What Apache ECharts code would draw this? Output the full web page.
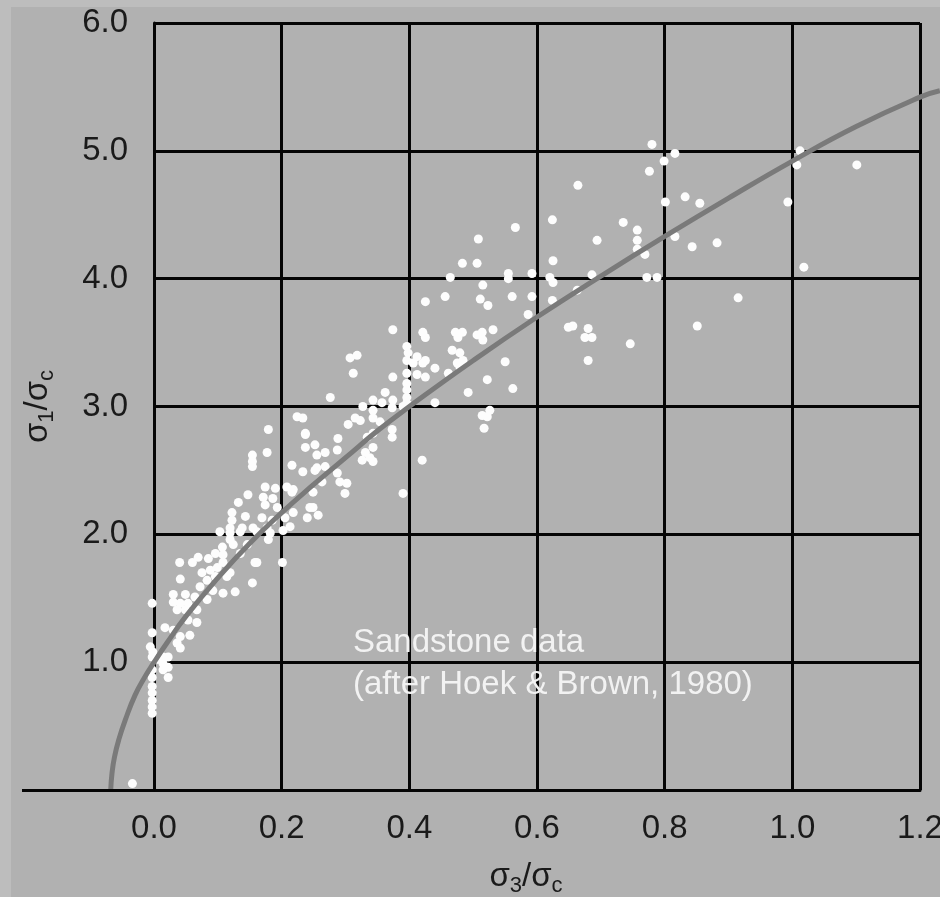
<!DOCTYPE html>
<html>
<head>
<meta charset="utf-8">
<script src="https://cdn.jsdelivr.net/npm/echarts@6/dist/echarts.min.js"></script>
<style>
html,body{margin:0;padding:0;background:#b1b1b1;}
#c{width:940px;height:897px;}
</style>
</head>
<body>
<div id="c"></div>
<script>
// ---- data ----
const xTickValues = [0.0, 0.2, 0.4, 0.6, 0.8, 1.0, 1.2];
const yTickValues = [1.0, 2.0, 3.0, 4.0, 5.0, 6.0];
const xAxisLeftEnd = -0.207;   // x-axis line runs a bit left of 0

// sigma3/sigma_c , sigma1/sigma_c  (sandstone triaxial data)
const sandstonePoints = [
 [0.04,1.78],[0.06,1.78],[0.075,1.70],[0.088,1.72],[0.099,1.74],[0.108,1.78],[0.083,1.64],[0.096,1.67],[0.119,1.70],[0.114,1.67],
 [0.158,1.78],[0.041,1.65],[0.154,1.62],[0.072,1.59],[0.092,1.56],[0.108,1.54],[0.127,1.55],[0.030,1.53],[0.049,1.53],[0.064,1.51],
 [0.030,1.47],[0.041,1.46],[0.053,1.46],[0.049,1.41],[0.036,1.41],[0.067,1.41],[0.083,1.49],[-0.003,1.46],[0.067,1.31],[0.053,1.33],
 [0.017,1.27],[0.030,1.25],[0.041,1.20],[0.056,1.21],[0.036,1.15],[0.041,1.11],[-0.003,1.23],[-0.006,1.12],[-0.002,1.08],[-0.003,1.04],
 [0.014,1.04],[0.022,1.04],[0.006,1.02],[0.014,0.99],[0.022,0.96],[0.014,0.94],[0.022,0.88],[-0.003,0.94],[-0.003,0.88],[-0.003,0.81],
 [-0.003,0.76],[-0.003,0.70],[-0.003,0.65],[-0.003,0.60],[-0.034,0.05],
 [0.179,2.82],[0.237,2.78],[0.252,2.70],[0.237,2.68],[0.154,2.62],[0.154,2.57],[0.154,2.53],[0.177,2.64],[0.216,2.54],[0.233,2.49],
 [0.252,2.50],[0.174,2.37],[0.190,2.36],[0.208,2.37],[0.216,2.33],[0.147,2.31],[0.171,2.29],[0.186,2.28],[0.249,2.33],[0.132,2.25],
 [0.174,2.23],[0.193,2.21],[0.244,2.21],[0.257,2.15],[0.122,2.17],[0.143,2.14],[0.122,2.11],[0.169,2.13],[0.185,2.11],[0.205,2.13],
 [0.240,2.13],[0.213,2.06],[0.119,2.05],[0.138,2.05],[0.155,2.05],[0.177,2.05],[0.103,2.02],[0.119,2.01],[0.135,2.02],[0.161,2.02],
 [0.182,2.01],[0.202,2.03],[0.179,1.96],[0.119,1.96],[0.107,1.90],[0.124,1.92],[0.146,1.92],[0.135,1.85],[0.108,1.84],[0.096,1.85],
 [0.069,1.82],[0.085,1.81],[0.161,1.78],[0.201,1.78],
 [0.374,3.60],[0.421,3.58],[0.425,3.54],[0.307,3.38],[0.318,3.40],[0.396,3.47],[0.398,3.42],[0.396,3.36],[0.406,3.34],[0.421,3.34],
 [0.412,3.39],[0.425,3.36],[0.440,3.30],[0.312,3.26],[0.374,3.23],[0.396,3.26],[0.412,3.25],[0.425,3.23],[0.396,3.18],[0.396,3.13],
 [0.396,3.07],[0.396,3.03],[0.362,3.11],[0.276,3.07],[0.343,3.05],[0.374,3.05],[0.357,3.03],[0.327,3.00],[0.343,2.97],[0.373,2.99],
 [0.390,3.00],[0.440,3.03],[0.224,2.92],[0.233,2.91],[0.315,2.91],[0.323,2.89],[0.343,2.91],[0.354,2.88],[0.304,2.86],[0.373,2.82],
 [0.373,2.76],[0.237,2.79],[0.334,2.76],[0.343,2.79],[0.288,2.75],[0.343,2.68],[0.268,2.64],[0.255,2.62],[0.287,2.66],[0.331,2.64],
 [0.338,2.60],[0.326,2.58],[0.343,2.57],[0.420,2.58],[0.255,2.52],[0.268,2.53],[0.287,2.48],[0.291,2.41],[0.302,2.40],[0.299,2.32],
 [0.263,2.41],[0.218,2.35],[0.390,2.32],[0.249,2.21],[0.218,2.17],
 [0.566,4.40],[0.624,4.46],[0.508,4.31],[0.483,4.12],[0.506,4.12],[0.464,4.01],[0.555,4.04],[0.555,4.00],[0.592,4.04],[0.620,4.01],
 [0.625,3.97],[0.515,3.95],[0.425,3.82],[0.456,3.86],[0.511,3.84],[0.523,3.79],[0.561,3.86],[0.592,3.86],[0.624,3.83],[0.586,3.72],
 [0.649,3.62],[0.472,3.58],[0.483,3.58],[0.476,3.54],[0.506,3.56],[0.514,3.58],[0.515,3.52],[0.531,3.60],[0.467,3.44],[0.479,3.42],
 [0.484,3.36],[0.475,3.34],[0.479,3.31],[0.550,3.35],[0.461,3.26],[0.522,3.21],[0.492,3.11],[0.562,3.14],[0.514,2.93],[0.522,2.92],
 [0.517,2.83],[0.526,2.97],
 [0.801,4.60],[0.832,4.64],[0.855,4.59],[0.735,4.44],[0.757,4.38],[0.694,4.30],[0.757,4.30],[0.816,4.33],[0.843,4.25],[0.882,4.28],
 [0.757,4.23],[0.769,4.19],[0.625,4.14],[0.686,4.03],[0.772,4.01],[0.788,4.01],[0.663,3.91],[0.915,3.85],[0.656,3.63],[0.851,3.63],
 [0.680,3.61],[0.675,3.54],[0.686,3.54],[0.746,3.49],[0.680,3.36],[0.780,5.05],[0.816,4.98],[0.799,4.92],[0.776,4.84],[1.012,5.00],
 [1.007,4.89],[1.101,4.89],[0.993,4.60],[1.018,4.09],[0.664,4.73]
];

// Hoek-Brown failure envelope
const envelopeX = [-0.068,-0.066,-0.062,-0.055,-0.045,-0.03,-0.015,0.0,0.02,0.05,0.1,0.15,0.2,0.25,0.3,0.35,0.4,0.5,0.6,0.7,0.8,0.9,1.0,1.1,1.2,1.231];
const envelopeY = [0.0,0.13,0.26,0.40,0.55,0.74,0.88,1.0,1.15,1.36,1.66,1.93,2.17,2.39,2.6,2.81,3.0,3.36,3.7,4.02,4.33,4.63,4.92,5.19,5.42,5.47];

const annotationText = ['Sandstone data', '(after Hoek & Brown, 1980)'];

// ---- chart ----
const font = '"Liberation Sans", Arial, Helvetica, sans-serif';
const ink = '#1a1a1a';
const gridColor = '#050505';
const chart = echarts.init(document.getElementById('c'));

const nameRich = {
  s: {fontSize: 33, fontFamily: font, color: ink, lineHeight: 40},
  b: {fontSize: 22, fontFamily: font, color: ink, lineHeight: 22, verticalAlign: 'bottom'}
};

const option = {
  backgroundColor: '#b1b1b1',
  animation: false,
  grid: [
    {left: 22, right: 0, top: 23, bottom: 107, outerBoundsMode: 'none', containLabel: false},
    {left: 154, right: 20, top: 23, bottom: 107, outerBoundsMode: 'none', containLabel: false}
  ],
  xAxis: [
    {
      gridIndex: 0, type: 'value', min: xAxisLeftEnd, max: 1.2313,
      axisLine: {show: false}, axisTick: {show: false}, axisLabel: {show: false}, splitLine: {show: false}
    },
    {
      gridIndex: 1, type: 'value', min: xTickValues[0], max: xTickValues[xTickValues.length - 1], interval: 0.2,
      axisLine: {show: true, onZero: false, lineStyle: {color: gridColor, width: 3}}, axisTick: {show: false},
      axisLabel: {formatter: v => v.toFixed(1), fontSize: 33, color: ink, fontFamily: font, margin: 22, showMinLabel: true, showMaxLabel: true},
      splitLine: {show: true, lineStyle: {color: gridColor, width: 3}},
      name: '{s|σ}{b|3}{s|/σ}{b|c}', nameLocation: 'middle', nameGap: 67,
      nameTextStyle: {rich: nameRich, padding: [0, 22, 0, 0]}
    }
  ],
  yAxis: [
    {gridIndex: 0, type: 'value', min: 0, max: 6, show: false},
    {
      gridIndex: 1, type: 'value', min: 0, max: yTickValues[yTickValues.length - 1], interval: 1,
      axisLine: {show: true, lineStyle: {color: gridColor, width: 3}}, axisTick: {show: false},
      axisLabel: {formatter: v => (yTickValues.indexOf(v) < 0 ? '' : v.toFixed(1)), fontSize: 33, color: ink, fontFamily: font, margin: 26},
      splitLine: {show: true, lineStyle: {color: gridColor, width: 3}},
      name: '{s|σ}{b|1}{s|/σ}{b|c}', nameLocation: 'middle', nameGap: 96, nameRotate: 90,
      nameTextStyle: {rich: nameRich}
    }
  ],
  graphic: [
    {type: 'rect', left: 0, top: 0, z: 0, shape: {width: 11, height: 897}, style: {fill: '#bdbdbd'}},
    {type: 'rect', left: 0, top: 0, z: 0, shape: {width: 940, height: 7}, style: {fill: '#bdbdbd'}},
    {type: 'text', left: 353, top: 622, z: 10,
     style: {text: annotationText.join('\n'), fontSize: 33, fontFamily: font, fill: '#f2f2f2', lineHeight: 42}}
  ],
  series: [
    {
      type: 'scatter', xAxisIndex: 0, yAxisIndex: 0, data: sandstonePoints,
      symbol: 'circle', symbolSize: 9, itemStyle: {color: '#fdfdfd', opacity: 1}, z: 2, silent: true,
      markLine: {
        silent: true, symbol: ['none', 'none'], label: {show: false}, animation: false,
        lineStyle: {color: gridColor, width: 3, type: 'solid'},
        data: [[{coord: [xAxisLeftEnd, 0]}, {coord: [0, 0]}]]
      }
    },
    {
      type: 'line', xAxisIndex: 0, yAxisIndex: 0,
      data: envelopeX.map((x, i) => [x, envelopeY[i]]),
      smooth: true, showSymbol: false,
      lineStyle: {color: '#7a7a7a', width: 5}, z: 3, silent: true
    }
  ]
};
chart.setOption(option);
</script>
</body>
</html>
